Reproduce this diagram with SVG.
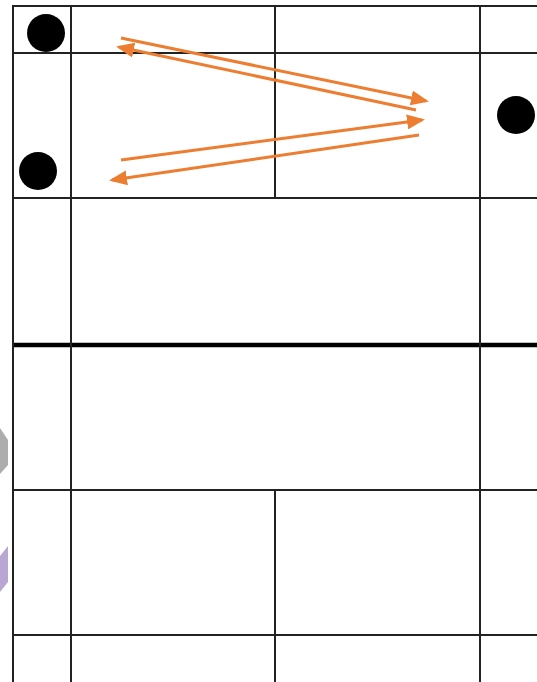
<svg xmlns="http://www.w3.org/2000/svg" width="537" height="682" viewBox="0 0 537 682">
<style>
.g{stroke:#222;stroke-width:2;fill:none}
.thick{stroke:#000;stroke-width:4.5;fill:none}
.a{stroke:#ED7D31;stroke-width:3;fill:none;marker-end:url(#ah)}
.dot{fill:#000}
</style>
<defs>
<marker id="ah" markerWidth="6" markerHeight="5" refX="5" refY="2.5" orient="auto" markerUnits="strokeWidth">
<path d="M0,0 L6,2.5 L0,5 Z" fill="#ED7D31"/>
</marker>
</defs>
<rect width="537" height="682" fill="#fff"/>
<g id="side-shapes">
<polygon points="0,428 8,440 8,465 0,474" fill="#ADADAD"/>
<polygon points="0,556 8,546 8,582 0,592" fill="#B9A6D2"/>
</g>
<g id="grid">
<line class="g" x1="13" y1="6" x2="537" y2="6"/>
<line class="g" x1="13" y1="53" x2="537" y2="53"/>
<line class="g" x1="13" y1="198" x2="537" y2="198"/>
<line class="thick" x1="13" y1="345" x2="537" y2="345"/>
<line class="g" x1="13" y1="490" x2="537" y2="490"/>
<line class="g" x1="13" y1="635" x2="537" y2="635"/>
<line class="g" x1="13" y1="5" x2="13" y2="682"/>
<line class="g" x1="71" y1="5" x2="71" y2="682"/>
<line class="g" x1="275" y1="5" x2="275" y2="198"/>
<line class="g" x1="275" y1="490" x2="275" y2="682"/>
<line class="g" x1="480" y1="5" x2="480" y2="682"/>
</g>
<g id="n1"><circle class="dot" cx="46" cy="33" r="19"/></g>
<g id="n2"><circle class="dot" cx="38" cy="171" r="19"/></g>
<g id="n3"><circle class="dot" cx="516" cy="115" r="19"/></g>
<g id="connectors">
<line class="a" x1="121" y1="38" x2="426" y2="101"/>
<line class="a" x1="416" y1="110" x2="119" y2="47"/>
<line class="a" x1="121" y1="160" x2="422" y2="120"/>
<line class="a" x1="419" y1="135" x2="112" y2="180"/>
</g>
</svg>
